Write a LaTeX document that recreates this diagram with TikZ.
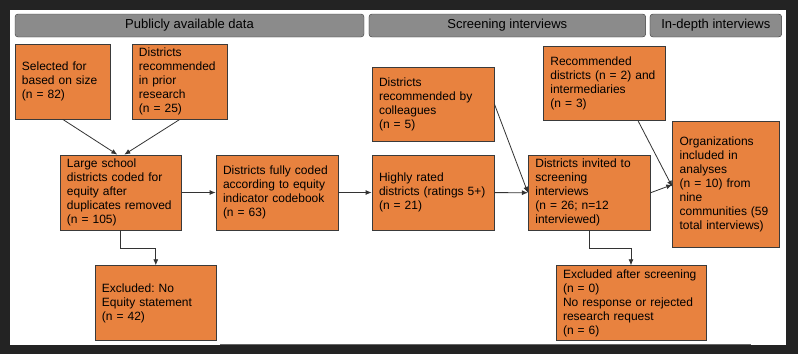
\documentclass[tikz,border=0pt]{standalone}
\usepackage{fontspec}
\setmainfont{Liberation Sans}
\frenchspacing
\usetikzlibrary{arrows.meta}
\definecolor{boxorange}{HTML}{E8823F}
\definecolor{boxedge}{HTML}{3A3A3A}
\definecolor{headgray}{HTML}{8B8B8B}
\definecolor{framedark}{HTML}{232323}

\begin{document}
\begin{tikzpicture}[x=1pt,y=-1pt,>={Latex[length=6pt,width=5pt]}]
	\fill[framedark] (0,0) rectangle (798,354);
	\fill[white] (10,10) rectangle (786,345);
	\draw[black!60, line width=1.2pt] (220,344.6) -- (751,344.6);

	\begin{scope}[every node/.style={draw=boxedge,fill=headgray,rounded corners=3pt,minimum height=23pt,inner sep=0pt,font=\fontsize{13}{15}\selectfont}]
		\node[minimum width=349pt] (public) at (189.5,25.5) {Publicly available data};
		\node[minimum width=276.7pt] (screening) at (507.3,25.5) {Screening interviews};
		\node[minimum width=131.7pt] (indepth) at (715.8,25.5) {In-depth interviews};
	\end{scope}

	\begin{scope}[every node/.style={draw=boxedge,fill=boxorange,align=left,inner xsep=7pt,inner ysep=0pt,line width=0.8pt,font=\fontsize{12}{14}\selectfont}]
		\node[text width=81.7pt,minimum height=75pt] (size) at (62.8,81.5) {Selected for\\based on size\\(n = 82)};
		\node[text width=81.7pt,minimum height=75pt] (prior) at (179.8,81.5) {Districts\\recommended\\in prior\\research\\(n = 25)};
		\node[text width=108pt,minimum height=74pt] (colleagues) at (433,104) {Districts\\recommended by\\colleagues\\(n = 5)};
		\node[text width=107.7pt,minimum height=74pt] (recommended) at (604.2,83.7) {Recommended\\districts (n = 2) and\\intermediaries\\(n = 3)};

		\node[text width=107.7pt,minimum height=75pt] (large) at (120.8,192.5) {Large school\\districts coded for\\equity after\\duplicates removed\\(n = 105)};
		\node[text width=108pt,minimum height=75pt] (coded) at (277,192.5) {Districts fully coded\\according to equity\\indicator codebook\\(n = 63)};
		\node[text width=108pt,minimum height=75pt] (rated) at (433,192.5) {Highly rated\\districts (ratings 5+)\\(n = 21)};
		\node[text width=107.7pt,minimum height=74.3pt] (invited) at (589.2,192.8) {Districts invited to\\screening\\interviews\\(n = 26; n=12\\interviewed)};
		\node[text width=92.3pt,minimum height=126pt] (analyses) at (725.8,184.7) {Organizations\\included in\\analyses\\(n = 10) from\\nine\\communities (59\\total interviews)};

		\node[text width=107.7pt,minimum height=75pt] (noequity) at (155.8,303.2) {Excluded: No\\Equity statement\\(n = 42)};
		\node[text width=136pt,minimum height=75pt] (afterscreen) at (631,303.2) {Excluded after screening\\(n = 0)\\No response or rejected\\research request\\(n = 6)};
	\end{scope}

	\begin{scope}[black!80,line width=0.8pt]
		\path[->] (size.south) edge ([xshift=-3.5pt]large.north);
		\path[->] (prior.south) edge ([xshift=3.5pt]large.north);
		\path[->] (large) edge (coded);
		\path[->] (coded) edge (rated);
		\path[->] (rated) edge (invited);
		\path[->] (colleagues.east) edge (invited.west);
		\path[->] ([xshift=34pt]recommended.south) edge ([yshift=-2pt]analyses.west);
		\path[->] (invited.east) edge (analyses.west);

		\draw[->] (large.south) -- ++(0,17.7) -| (noequity.north);
		\draw[->] (invited.south) -- ++(0,17.7) -| (afterscreen.north);
	\end{scope}
\end{tikzpicture}
\end{document}
